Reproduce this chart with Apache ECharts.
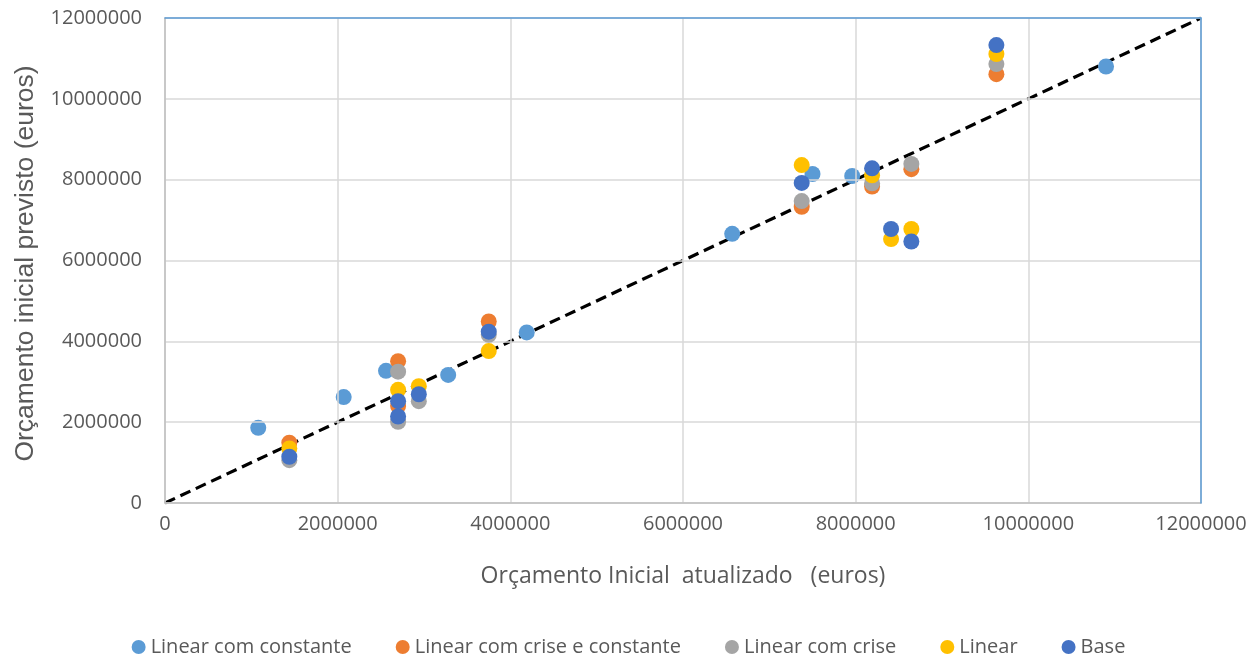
<!DOCTYPE html>
<html>
<head>
<meta charset="utf-8">
<script src="https://cdn.jsdelivr.net/npm/echarts@6/dist/echarts.min.js"></script>
<style>html,body{margin:0;padding:0;background:#fff}#c{width:1257px;height:657px}</style>
</head>
<body>
<div id="c"></div>
<script>
// Data (euros)
const seriesNames = ['Linear com constante', 'Linear com crise e constante', 'Linear com crise', 'Linear', 'Base'];

const linConstX = [1080000, 2070000, 2560000, 3280000, 4190000, 6570000, 7500000, 7960000, 10900000];
const linConstY = [1860000, 2620000, 3270000, 3170000, 4220000, 6660000, 8140000, 8090000, 10800000];

const crisConstX = [1440000, 2700000, 2700000, 3750000, 7375000, 8190000, 8645000, 9630000];
const crisConstY = [1490000, 3510000, 2400000, 4490000, 7330000, 7830000, 8260000, 10610000];

const crisX = [1440000, 2700000, 2700000, 2940000, 3750000, 7375000, 8190000, 8645000, 9630000];
const crisY = [1060000, 3250000, 2010000, 2520000, 4160000, 7470000, 7910000, 8390000, 10860000];

const linearX = [1440000, 2700000, 2940000, 3750000, 7375000, 8190000, 8410000, 8645000, 9630000];
const linearY = [1350000, 2800000, 2890000, 3760000, 8360000, 8110000, 6530000, 6780000, 11110000];

const baseX = [1440000, 2700000, 2700000, 2940000, 3750000, 7375000, 8190000, 8410000, 8645000, 9630000];
const baseY = [1145000, 2520000, 2140000, 2690000, 4240000, 7920000, 8280000, 6780000, 6470000, 11330000];

const refLineX = [0, 12000000];
const refLineY = [0, 12000000];

const axisMin = 0, axisMax = 12000000, axisStep = 2000000;
const xTitle = 'Orçamento Inicial  atualizado   (euros)';
const yTitle = 'Orçamento inicial previsto (euros)';

const colors = ['#5B9BD5', '#ED7D31', '#A5A5A5', '#FFC000', '#4472C4'];
const zip = (xs, ys) => xs.map((x, i) => [x, ys[i]]);
const allX = [linConstX, crisConstX, crisX, linearX, baseX];
const allY = [linConstY, crisConstY, crisY, linearY, baseY];

const fontC = 'Open Sans';
const fontA = 'Liberation Sans';
const chart = echarts.init(document.getElementById('c'), null, {renderer: 'canvas'});
const scatterSeries = seriesNames.map((n, i) => ({
  name: n,
  type: 'scatter',
  data: zip(allX[i], allY[i]),
  symbol: 'circle',
  symbolSize: 16,
  itemStyle: {color: colors[i], opacity: 1},
  z: 3 + i
}));

const borderAxis = (pos) => ({
  type: 'value', min: axisMin, max: axisMax, interval: axisStep, position: pos,
  axisLine: {show: true, onZero: false, lineStyle: {color: '#5B9BD5', width: 1.5}},
  axisTick: {show: false}, axisLabel: {show: false}, splitLine: {show: false}, z: 10
});

chart.setOption({
  animation: false,
  textStyle: {fontFamily: fontC},
  grid: {left: 165, right: 56, top: 18, bottom: 154},
  xAxis: [{
    type: 'value', min: axisMin, max: axisMax, interval: axisStep,
    name: xTitle, nameLocation: 'middle', nameGap: 62,
    nameTextStyle: {fontSize: 23, color: '#595959', fontFamily: fontC},
    axisLine: {show: true, lineStyle: {color: '#BFBFBF', width: 1.5}},
    axisTick: {show: false},
    axisLabel: {fontSize: 20, color: '#595959', margin: 11, fontFamily: fontC, formatter: v => String(v)},
    splitLine: {show: true, lineStyle: {color: '#D9D9D9', width: 1.5}},
    z: 5
  }, borderAxis('top')],
  yAxis: [{
    type: 'value', min: axisMin, max: axisMax, interval: axisStep,
    name: yTitle, nameLocation: 'middle', nameGap: 124, nameRotate: 90,
    nameTextStyle: {fontSize: 26.5, color: '#595959', fontFamily: fontA, padding: [0, 6, 0, 0]},
    axisLine: {show: true, lineStyle: {color: '#BFBFBF', width: 1.5}},
    axisTick: {show: false},
    axisLabel: {fontSize: 20, color: '#595959', margin: 23, fontFamily: fontC, formatter: v => String(v)},
    splitLine: {show: true, lineStyle: {color: '#D9D9D9', width: 1.5}},
    z: 5
  }, borderAxis('right')],
  legend: {
    data: seriesNames.map(n => ({name: n, icon: 'circle'})),
    bottom: 0, left: 'center', padding: 0,
    itemWidth: 14, itemHeight: 14, itemGap: 44,
    textStyle: {fontSize: 20, color: '#595959', fontFamily: fontC}
  },
  series: [{
    name: 'ref',
    type: 'line',
    data: zip(refLineX, refLineY),
    symbol: 'none',
    lineStyle: {color: '#000', width: 3.2, type: [11, 6]},
    z: 2,
    silent: true
  }].concat(scatterSeries)
});
</script>
</body>
</html>
